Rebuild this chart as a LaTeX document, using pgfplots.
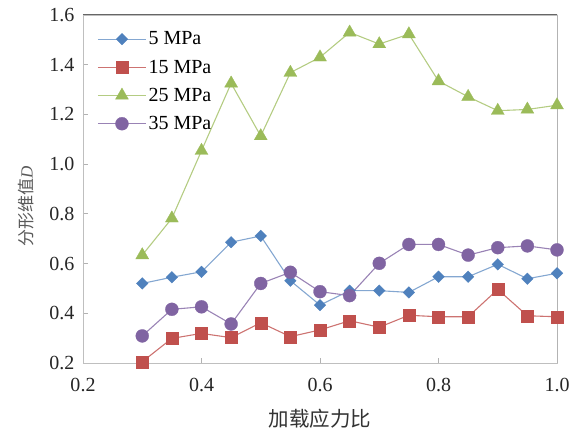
\documentclass[border=0pt]{standalone}
\usepackage{pgfplots}
\pgfplotsset{compat=1.18}
\usepackage{fontspec}
\setmainfont{Liberation Serif}
\newfontfamily\cjk{Noto Sans CJK SC}
\definecolor{cblue}{HTML}{4F81BD}
\definecolor{cred}{HTML}{C0504D}
\definecolor{cgreen}{HTML}{9BBB59}
\definecolor{cpurple}{HTML}{8064A2}
\begin{document}
\begin{tikzpicture}
\useasboundingbox (-83pt,-67pt) rectangle (494pt,363pt);
\begin{axis}[
  scale only axis, width=474pt, height=348pt,
  xmin=0.2, xmax=1.0, ymin=0.2, ymax=1.6,
  xtick={0.2,0.4,0.6,0.8,1.0},
  ytick={0.2,0.4,0.6,0.8,1.0,1.2,1.4,1.6},
  xticklabel style={/pgf/number format/.cd, fixed, fixed zerofill, precision=1},
  yticklabel style={/pgf/number format/.cd, fixed, fixed zerofill, precision=1},
  /pgf/number format/assume math mode=true,
  ticklabel style={font=\fontsize{20}{23}\selectfont, text=black!85},
  xtick pos=bottom, ytick pos=left,
  tick align=inside, major tick length=5pt,
  tick style={gray!60, line width=0.8pt},
  axis line style={draw=gray!50, line width=0.8pt},
  xticklabel shift=12pt, yticklabel shift=5pt,
  xlabel={\cjk 加载应力比},
  ylabel={\cjk 分形维值\textrm{\textit{D}}},
  xlabel style={font=\fontsize{20.5}{24}\selectfont, text=black!80, at={(axis description cs:0.5,-0.161)}, anchor=center},
  ylabel style={font=\fontsize{17}{20}\selectfont, text=black!65, at={(axis description cs:-0.12,0.45)}, anchor=center},
  legend style={draw=none, fill=none, at={(axis description cs:0.03,0.958)}, anchor=north west,
    font=\fontsize{20}{23}\selectfont, row sep=9.5pt, inner sep=0pt},
  legend cell align=left,
  legend image code/.code={\draw[mark repeat=2, mark phase=2] plot coordinates {(0pt,0pt) (24pt,0pt) (48pt,0pt)};},
  every axis plot/.append style={line width=1.1pt},
]
\addplot[color=cblue!70!white, mark=square*, mark size=4.1pt, mark options={fill=cblue, draw=cblue, rotate=45, line width=0.3pt}] coordinates {
(0.30,0.520) (0.35,0.545) (0.40,0.567) (0.45,0.686) (0.50,0.711) (0.55,0.531) (0.60,0.433) (0.65,0.491) (0.70,0.491) (0.75,0.484) (0.80,0.547) (0.85,0.547) (0.90,0.597) (0.95,0.539) (1.00,0.561)};
\addlegendentry{5 MPa}
\addplot[color=cred!80!white, mark=square*, mark size=6pt, mark options={fill=cred, draw=cred, line width=0.3pt}] coordinates {
(0.30,0.205) (0.35,0.299) (0.40,0.319) (0.45,0.302) (0.50,0.362) (0.55,0.306) (0.60,0.333) (0.65,0.370) (0.70,0.344) (0.75,0.392) (0.80,0.386) (0.85,0.386) (0.90,0.496) (0.95,0.390) (1.00,0.386)};
\addlegendentry{15 MPa}
\addplot[color=cgreen!75!white, mark=triangle*, mark size=7.5pt, mark options={fill=cgreen, draw=cgreen, line width=0.3pt}] coordinates {
(0.30,0.634) (0.35,0.782) (0.40,1.054) (0.45,1.325) (0.50,1.113) (0.55,1.368) (0.60,1.430) (0.65,1.530) (0.70,1.483) (0.75,1.523) (0.80,1.334) (0.85,1.271) (0.90,1.215) (0.95,1.220) (1.00,1.237)};
\addlegendentry{25 MPa}
\addplot[color=cpurple!80!white, mark=*, mark size=6.5pt, mark options={fill=cpurple, draw=cpurple, line width=0.3pt}] coordinates {
(0.30,0.309) (0.35,0.416) (0.40,0.426) (0.45,0.357) (0.50,0.520) (0.55,0.565) (0.60,0.487) (0.65,0.471) (0.70,0.601) (0.75,0.677) (0.80,0.677) (0.85,0.634) (0.90,0.664) (0.95,0.671) (1.00,0.655)};
\addlegendentry{35 MPa}
\draw[black!60, line width=1pt] (rel axis cs:0,1) -- (rel axis cs:1,1) -- (rel axis cs:1,0);
\end{axis}
\end{tikzpicture}
\end{document}
